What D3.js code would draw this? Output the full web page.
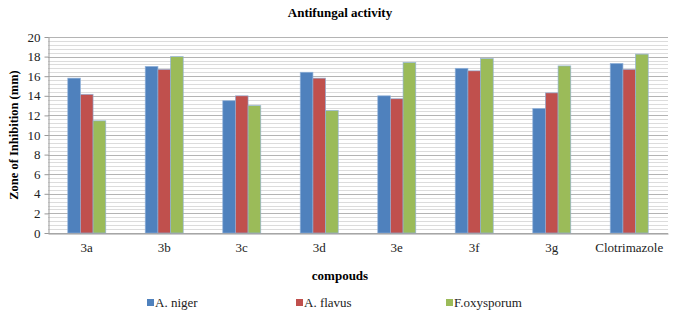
<!DOCTYPE html>
<html>
<head>
<meta charset="utf-8">
<script src="https://cdn.jsdelivr.net/npm/d3@7"></script>
<style>
  body { margin: 0; background: #fff; }
  svg text { font-family: "Liberation Serif", "DejaVu Serif", serif; }
</style>
</head>
<body>
<svg id="drawing_region"></svg>
<script>
const categories = ['3a', '3b', '3c', '3d', '3e', '3f', '3g', 'Clotrimazole'];
const seriesNames = ['A. niger', 'A. flavus', 'F.oxysporum'];
const aNiger = [15.8, 17.0, 13.5, 16.4, 14.0, 16.8, 12.7, 17.3];
const aFlavus = [14.15, 16.7, 14.0, 15.8, 13.7, 16.55, 14.3, 16.7];
const fOxysporum = [11.45, 18.0, 13.0, 12.5, 17.4, 17.8, 17.05, 18.25];
const yTicks = [0, 2, 4, 6, 8, 10, 12, 14, 16, 18, 20];
const colors = ['#4f81bd', '#c0504d', '#9bbb59'];

const config = {
    width: 677,
    height: 317,
    margin: {top: 37, right: 9, bottom: 84, left: 48}
};

const data = categories.map((c, i) => ({
    label: c,
    values: [aNiger[i], aFlavus[i], fOxysporum[i]]
}));

const svg = d3.select('#drawing_region')
    .attr('width', config.width)
    .attr('height', config.height);

const inner_width = config.width - config.margin.left - config.margin.right;
const inner_height = config.height - config.margin.top - config.margin.bottom;

const chart = svg.append('g')
    .attr('transform', `translate(${config.margin.left}, ${config.margin.top})`);

const xscale = d3.scaleBand()
    .domain(categories)
    .range([0, inner_width])
    .paddingInner(0.51)
    .paddingOuter(0.255);

const subscale = d3.scaleBand()
    .domain(d3.range(seriesNames.length))
    .range([0, xscale.bandwidth()]);

const yscale = d3.scaleLinear()
    .domain([0, 20])
    .range([inner_height, 0]);

// minor grid lines
chart.append('g')
    .selectAll('line')
    .data(d3.range(0, 20.01, 0.4))
    .join('line')
    .attr('x1', 0)
    .attr('x2', inner_width)
    .attr('y1', d => Math.round(yscale(d)) + 0.5)
    .attr('y2', d => Math.round(yscale(d)) + 0.5)
    .attr('stroke', '#dcdcdc')
    .attr('stroke-width', 1);

// major grid lines
chart.append('g')
    .selectAll('line')
    .data(yTicks)
    .join('line')
    .attr('x1', 0)
    .attr('x2', inner_width)
    .attr('y1', d => Math.round(yscale(d)) + 0.5)
    .attr('y2', d => Math.round(yscale(d)) + 0.5)
    .attr('stroke', '#b4b4b4')
    .attr('stroke-width', 1);

// y axis
const yaxis = d3.axisLeft(yscale)
    .tickValues(yTicks)
    .tickSize(4)
    .tickSizeOuter(0)
    .tickPadding(4);

const yaxis_group = chart.append('g')
    .attr('transform', 'translate(0.5, 0)')
    .call(yaxis)
    .attr('font-family', '"Liberation Serif", serif')
    .attr('font-size', 13);
yaxis_group.select('.domain').attr('stroke', '#999');
yaxis_group.selectAll('.tick line').attr('stroke', '#999');
yaxis_group.selectAll('.tick text').attr('fill', '#222');

// bars
const groups = chart.append('g')
    .selectAll('g')
    .data(data)
    .join('g')
    .attr('transform', d => `translate(${xscale(d.label)}, 0)`);

groups.selectAll('rect')
    .data(d => d.values.map((v, i) => ({v, i})))
    .join('rect')
    .attr('x', d => subscale(d.i))
    .attr('y', d => yscale(d.v))
    .attr('width', subscale.bandwidth())
    .attr('height', d => inner_height - yscale(d.v))
    .attr('fill', d => colors[d.i])
    .attr('stroke', '#8eb0da')
    .attr('stroke-opacity', 0.8)
    .attr('stroke-width', 0.8);

// x axis
const xaxis = d3.axisBottom(xscale)
    .tickSize(0)
    .tickSizeOuter(0)
    .tickPadding(9);

const xaxis_group = chart.append('g')
    .attr('transform', `translate(0, ${Math.round(inner_height) + 0.5})`)
    .call(xaxis)
    .attr('font-family', '"Liberation Serif", serif')
    .attr('font-size', 13);
xaxis_group.select('.domain').attr('stroke', '#999');
xaxis_group.selectAll('.tick text').attr('fill', '#222');

// titles
svg.append('text')
    .attr('x', 340)
    .attr('y', 17)
    .attr('text-anchor', 'middle')
    .attr('font-size', 13)
    .attr('font-weight', 'bold')
    .text('Antifungal activity');

svg.append('text')
    .attr('transform', `translate(18, ${config.margin.top + inner_height / 2}) rotate(-90)`)
    .attr('text-anchor', 'middle')
    .attr('font-size', 12.5)
    .attr('font-weight', 'bold')
    .text('Zone of Inhibition  (mm)');

svg.append('text')
    .attr('x', 340)
    .attr('y', 280)
    .attr('text-anchor', 'middle')
    .attr('font-size', 13)
    .attr('font-weight', 'bold')
    .text('compouds');

// legend
const legendX = [147, 296, 446];
const legend = svg.append('g')
    .selectAll('g')
    .data(seriesNames)
    .join('g')
    .attr('transform', (d, i) => `translate(${legendX[i]}, 303)`);

legend.append('rect')
    .attr('x', 0)
    .attr('y', -4)
    .attr('width', 7)
    .attr('height', 7)
    .attr('fill', (d, i) => colors[i]);

legend.append('text')
    .attr('x', 8)
    .attr('y', 4)
    .attr('font-size', 13)
    .attr('fill', '#222')
    .text(d => d);
</script>
</body>
</html>
